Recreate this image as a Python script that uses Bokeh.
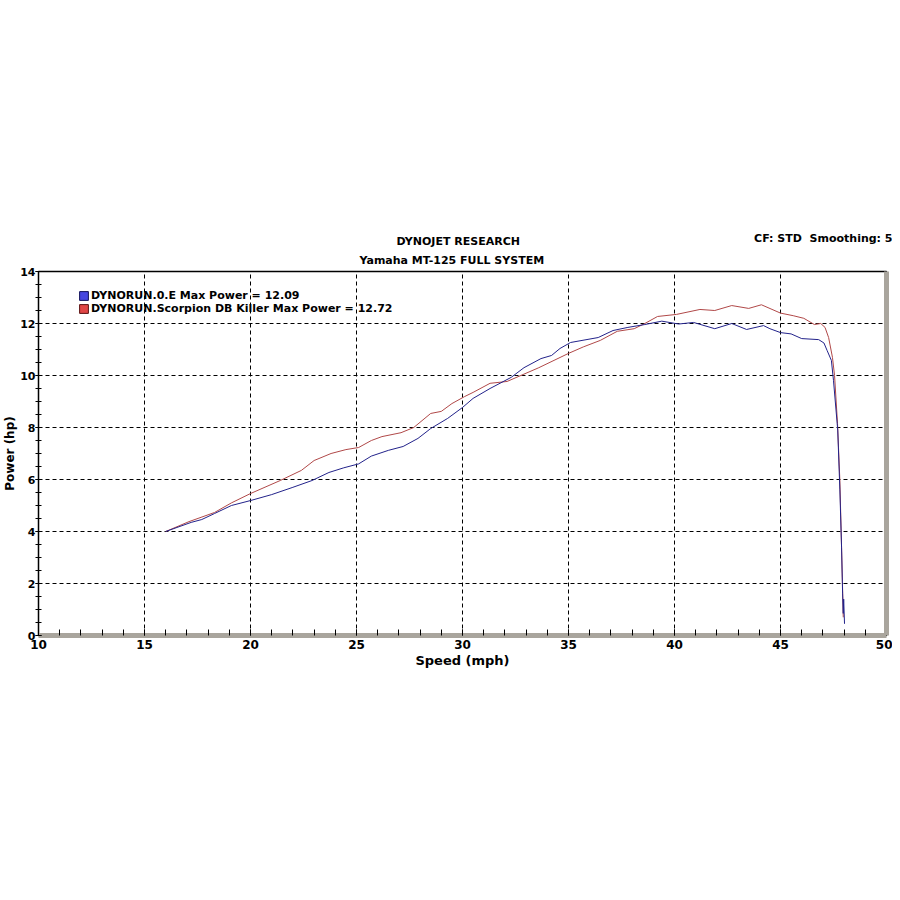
import math
from bokeh.plotting import figure
from bokeh.models import (ColumnDataSource, Legend, LegendItem, Title, LinearAxis,
                          SingleIntervalTicker, FixedTicker, Range1d)
from bokeh.embed import file_html
from bokeh.resources import INLINE

# ---------------- data ----------------
oe_speed = [16.0, 17.2, 17.7, 18.3, 19.1, 20.0, 21.0, 22.0, 22.9, 23.7, 24.4, 25.1, 25.7,
            26.5, 27.2, 27.9, 28.5, 29.3, 30.0, 30.5, 31.3, 32.3, 32.9, 33.7, 34.2, 34.6,
            35.1, 36.4, 37.1, 37.8, 38.6, 39.4, 40.2, 40.9, 41.9, 42.7, 43.4, 44.2, 44.5,
            45.0, 45.5, 46.0, 46.8, 47.05, 47.2, 47.4, 47.5, 47.7, 47.8, 47.88, 47.93,
            47.96, 47.98, 48.02]
oe_power = [4.0, 4.35, 4.46, 4.69, 5.0, 5.19, 5.42, 5.7, 5.96, 6.27, 6.45, 6.6, 6.9,
            7.12, 7.27, 7.58, 7.96, 8.35, 8.77, 9.12, 9.5, 9.93, 10.3, 10.65, 10.77, 11.04,
            11.27, 11.46, 11.73, 11.85, 11.96, 12.09, 11.98, 12.04, 11.8, 12.0, 11.77, 11.92, 11.8,
            11.65, 11.6, 11.42, 11.38, 11.25, 10.96, 10.58, 9.8, 7.9, 5.6, 3.4, 1.6,
            0.85, 1.4, 0.45]

sc_speed = [16.0, 17.1, 18.3, 19.1, 20.0, 21.4, 22.4, 23.0, 23.8, 24.5, 25.1, 25.7, 26.2,
            27.1, 27.7, 28.5, 29.0, 29.5, 30.1, 30.5, 31.3, 32.1, 33.6, 35.0, 35.7, 36.5,
            37.3, 38.1, 38.6, 39.2, 40.1, 41.2, 41.9, 42.7, 43.5, 44.1, 45.0, 45.6, 46.1,
            46.6, 46.9, 47.1, 47.27, 47.45, 47.55, 47.69, 47.8, 47.88, 47.93, 47.96]
sc_power = [4.0, 4.38, 4.73, 5.1, 5.46, 5.96, 6.35, 6.73, 7.0, 7.15, 7.23, 7.5, 7.65,
            7.8, 8.0, 8.54, 8.62, 8.92, 9.19, 9.35, 9.7, 9.77, 10.3, 10.85, 11.1, 11.35,
            11.7, 11.8, 12.0, 12.27, 12.35, 12.54, 12.5, 12.69, 12.58, 12.72, 12.4, 12.3, 12.2,
            11.96, 12.0, 11.85, 11.46, 10.7, 10.0, 8.15, 5.96, 3.4, 1.73, 0.7]

series_names = ["DYNORUN.0.E Max Power = 12.09",
                "DYNORUN.Scorpion DB Killer Max Power = 12.72"]
title_lines = ["DYNOJET RESEARCH", "Yamaha MT-125 FULL SYSTEM"]
corner_text = "CF: STD\u00a0\u00a0Smoothing: 5"
x_label = "Speed (mph)"
y_label = "Power (hp)"

BLUE = "#22228a"
RED = "#b04848"
SHADOW = "#a9a59d"
FONT = "DejaVu Sans"

# ---------------- figure ----------------
p = figure(width=892, height=884, output_backend="svg", toolbar_location=None,
           x_range=Range1d(10, 50), y_range=Range1d(0, 14),
           min_border_left=37, min_border_right=6, min_border_top=271, min_border_bottom=249)
p.background_fill_color = "white"
p.border_fill_color = "white"
p.outline_line_color = "black"
p.outline_line_width = 1.5

# axes
p.xaxis.ticker = SingleIntervalTicker(interval=5, num_minor_ticks=5)
p.yaxis.ticker = SingleIntervalTicker(interval=2, num_minor_ticks=4)
for ax in (p.xaxis[0], p.yaxis[0]):
    ax.major_tick_line_color = "black"
    ax.minor_tick_line_color = "black"
    ax.major_label_text_color = "black"
    ax.major_label_text_font_style = "bold"
    ax.axis_label_text_font_style = "bold"
    ax.axis_label_text_color = "black"
    ax.axis_label_text_font = FONT
p.xaxis.axis_line_color = SHADOW
p.xaxis.axis_line_width = 5
p.xaxis.major_tick_in = 6
p.xaxis.major_tick_out = 0
p.xaxis.minor_tick_in = 6
p.xaxis.minor_tick_out = 0
p.xaxis.major_label_text_font = FONT
p.xaxis.major_label_text_font_size = "12px"
p.xaxis.major_label_standoff = 4
p.xaxis.axis_label = x_label
p.xaxis.axis_label_text_font_size = "13px"
p.xaxis.axis_label_standoff = 1

p.yaxis.axis_line_color = None
p.yaxis.major_tick_in = 3
p.yaxis.major_tick_out = 3
p.yaxis.minor_tick_in = 3
p.yaxis.minor_tick_out = 3
p.yaxis.major_label_text_font = FONT
p.yaxis.major_label_text_font_size = "11px"
p.yaxis.major_label_standoff = 0
p.yaxis.axis_label = y_label
p.yaxis.axis_label_text_font_size = "12px"
p.yaxis.axis_label_standoff = 0

# right-side shadow strip
rax = LinearAxis(ticker=FixedTicker(ticks=[]), axis_line_color=SHADOW, axis_line_width=5,
                 major_tick_line_color=None, minor_tick_line_color=None,
                 major_label_text_font_size="0px")
p.add_layout(rax, "right")

# grid
for g in (p.xgrid[0], p.ygrid[0]):
    g.grid_line_color = "black"
    g.grid_line_dash = "4 3"
    g.grid_line_width = 1

# curves
src_oe = ColumnDataSource(dict(x=oe_speed, y=oe_power))
src_sc = ColumnDataSource(dict(x=sc_speed, y=sc_power))
p.line("x", "y", source=src_sc, line_color=RED, line_width=1)
p.line("x", "y", source=src_oe, line_color=BLUE, line_width=1)

# legend (square swatches; no plotted area)
nan = float("nan")
nan_src = ColumnDataSource(dict(l=[nan], r=[nan], b=[nan], t=[nan]))
sw_b = p.quad(left="l", right="r", bottom="b", top="t", source=nan_src,
              fill_color="#4646e0", line_color="#12125a")
sw_r = p.quad(left="l", right="r", bottom="b", top="t", source=nan_src,
              fill_color="#e04646", line_color="#5a1212")
legend = Legend(items=[LegendItem(label=series_names[0], renderers=[sw_b]),
                       LegendItem(label=series_names[1], renderers=[sw_r])],
                location=(40, 320), orientation="vertical",
                glyph_width=11, glyph_height=11, label_height=13, spacing=0, padding=2,
                label_standoff=2, border_line_color=None, background_fill_alpha=0,
                label_text_font=FONT, label_text_font_size="11px",
                label_text_font_style="bold", label_text_color="black", margin=0)
p.add_layout(legend, "center")

# header texts (first added = nearest the frame)
p.add_layout(Title(text=title_lines[1], align="left", text_font=FONT, text_font_size="11px",
                   text_font_style="bold", text_color="black", standoff=10, offset=321), "above")
p.add_layout(Title(text=title_lines[0], align="left", text_font=FONT, text_font_size="11px",
                   text_font_style="bold", text_color="black", standoff=-3, offset=358), "above")
p.add_layout(Title(text=corner_text, align="right", text_font=FONT, text_font_size="11px",
                   text_font_style="bold", text_color="black", standoff=-21, offset=-6), "above")

open("out.html", "w").write(file_html(p, INLINE))
